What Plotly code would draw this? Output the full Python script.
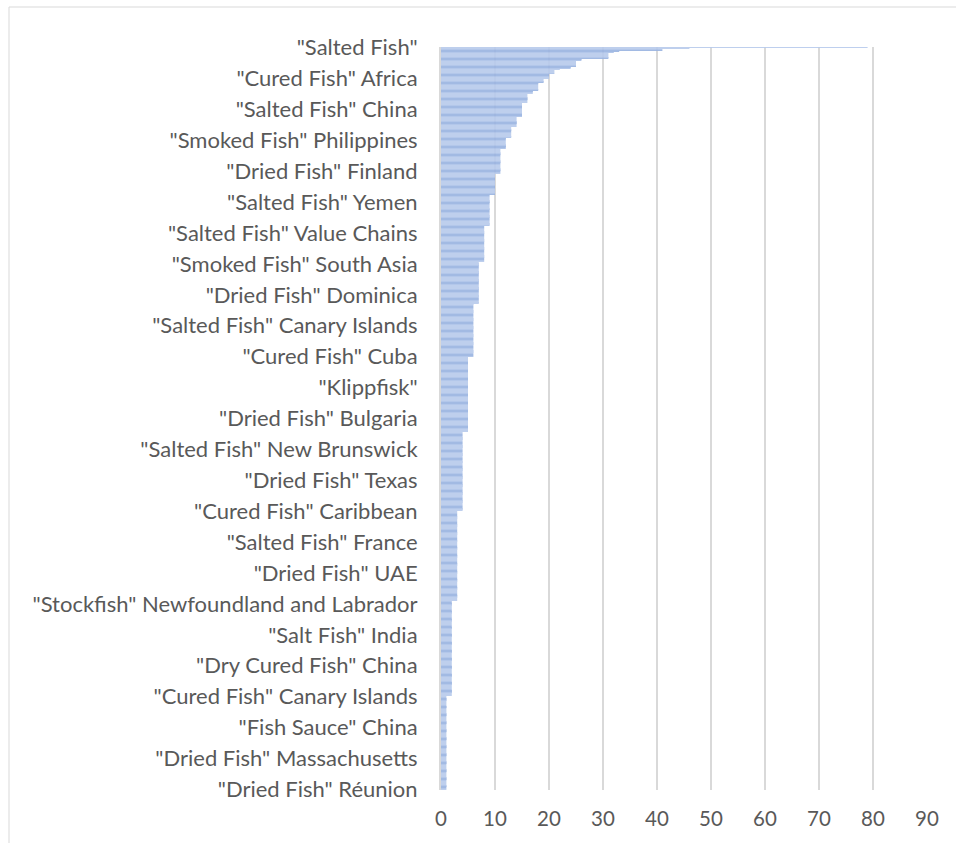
import plotly.graph_objects as go

# Search-hit counts per keyword, sorted from the largest (top) to the smallest.
# Each entry is (count, number of keywords with that count).
value_runs = [
    (79, 1), (46, 1), (41, 1), (33, 1), (32, 1), (31, 5), (26, 2), (25, 5),
    (24, 2), (22, 1), (21, 3), (20, 5), (19, 3), (18, 7), (17, 3), (16, 8),
    (15, 12), (14, 9), (13, 9), (12, 10), (11, 22), (10, 18), (9, 27),
    (8, 32), (7, 36), (6, 47), (5, 65), (4, 69), (3, 79), (2, 83), (1, 82),
]

# Keywords shown on the category axis (every 27th keyword, top to bottom)
shown_labels = [
    '"Salted Fish"',
    '"Cured Fish" Africa',
    '"Salted Fish" China',
    '"Smoked Fish" Philippines',
    '"Dried Fish" Finland',
    '"Salted Fish" Yemen',
    '"Salted Fish" Value Chains',
    '"Smoked Fish" South Asia',
    '"Dried Fish" Dominica',
    '"Salted Fish" Canary Islands',
    '"Cured Fish" Cuba',
    '"Klippfisk"',
    '"Dried Fish" Bulgaria',
    '"Salted Fish" New Brunswick',
    '"Dried Fish" Texas',
    '"Cured Fish" Caribbean',
    '"Salted Fish" France',
    '"Dried Fish" UAE',
    '"Stockfish" Newfoundland and Labrador',
    '"Salt Fish" India',
    '"Dry Cured Fish" China',
    '"Cured Fish" Canary Islands',
    '"Fish Sauce" China',
    '"Dried Fish" Massachusetts',
    '"Dried Fish" Réunion',
]
label_step = 27

x_ticks = [0, 10, 20, 30, 40, 50, 60, 70, 80, 90]

values = []
for v, n in value_runs:
    values.extend([v] * n)
positions = list(range(len(values)))
label_positions = [i * label_step for i in range(len(shown_labels))]

FONT = "Lato"
TEXT = "#595959"
GRID = "#D9D9D9"

fig = go.Figure(
    go.Bar(
        x=values,
        y=positions,
        orientation="h",
        width=0.5,
        opacity=0.9,
        marker=dict(
            color="#A9BFE8",
            line=dict(width=0),
            pattern=dict(
                shape="-",
                bgcolor="#B7CAEC",
                fgcolor="#7C9BD6",
                size=8,
                solidity=0.35,
            ),
        ),
        hoverinfo="x",
    )
)

fig.update_layout(
    width=956,
    height=843,
    margin=dict(l=441, r=29, t=47, b=53),
    paper_bgcolor="white",
    plot_bgcolor="white",
    showlegend=False,
    font=dict(family=FONT, size=22, color=TEXT),
    xaxis=dict(
        range=[0, 90],
        tickvals=x_ticks,
        showgrid=True,
        gridcolor=GRID,
        gridwidth=1.5,
        zeroline=False,
        showline=False,
        ticks="",
        ticklabelstandoff=14,
        tickfont=dict(family=FONT, size=20.5, color=TEXT),
    ),
    yaxis=dict(
        range=[len(values) - 0.5, -0.5],
        tickvals=label_positions,
        ticktext=shown_labels,
        showgrid=False,
        zeroline=False,
        showline=True,
        linecolor=GRID,
        linewidth=2,
        ticks="",
        ticklabelstandoff=17,
        tickfont=dict(family=FONT, size=22, color=TEXT),
    ),
    shapes=[
        dict(
            type="rect",
            xref="paper",
            yref="paper",
            x0=(9 - 441) / 486,
            x1=(970 - 441) / 486,
            y0=(790 - 860) / 743,
            y1=(790 - 7) / 743,
            line=dict(color=GRID, width=1),
            fillcolor="rgba(0,0,0,0)",
            layer="below",
        )
    ],
)

fig.write_html("out.html")
